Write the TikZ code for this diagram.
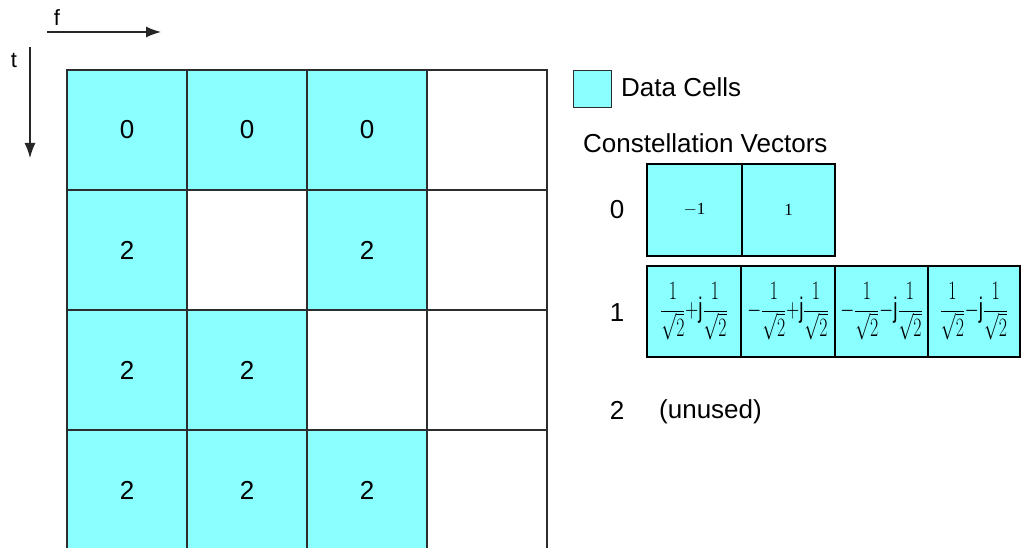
\documentclass[tikz,border=0pt]{standalone}
\usepackage{graphicx}
\usepackage{fontspec}
\setmainfont{Liberation Sans}
\newfontfamily\numserif{Liberation Serif}
\usetikzlibrary{arrows.meta}
\definecolor{cellcyan}{RGB}{138,255,255}
\definecolor{gridline}{RGB}{45,45,45}
\newcommand{\cvexpr}[1]{\scalebox{0.86}[1.28]{$\displaystyle #1$}}
\newcommand{\isq}{\frac{1}{\sqrt{2}}}
\begin{document}
\begin{tikzpicture}[x=1pt,y=-1pt,
  cell/.style={draw=gridline, line width=1.6pt, minimum width=120pt, minimum height=120pt, inner sep=0pt, font=\fontsize{26}{30}\selectfont},
  data/.style={cell, fill=cellcyan},
  cvbox/.style={draw=black, line width=1.3pt, fill=cellcyan, inner sep=0pt},
  lbl/.style={font=\fontsize{26}{30}\selectfont, inner sep=0pt, text=black},
  axis/.style={draw=black!85, line width=1.3pt, -{Latex[length=15pt,width=11pt]}},
  cvfrac/.style={font=\fontsize{22}{25}\selectfont},
  cvnum/.style={font=\numserif\fontsize{17}{20}\selectfont}
]
\useasboundingbox (0,0) rectangle (1021,548);
\clip (0,0) rectangle (1021,548);
% axes
\coordinate (fs) at (47,32);
\coordinate (fe) at (161,32);
\coordinate (ts) at (30,47);
\coordinate (te) at (30,158);
\draw[axis] (fs) -- (fe);
\draw[axis] (ts) -- (te);
\node[lbl, font=\fontsize{22}{26}\selectfont, anchor=base] (flab) at (57,26) {f};
\node[lbl, font=\fontsize{22}{26}\selectfont, anchor=base] (tlab) at (14,68) {t};
% grid
\node[cell] (g03) at (487,130) {};
\node[cell] (g11) at (247,250) {};
\node[cell] (g13) at (487,250) {};
\node[cell] (g22) at (367,370) {};
\node[cell] (g23) at (487,370) {};
\node[cell] (g33) at (487,490) {};
\node[data] (g00) at (127,130) {0};
\node[data] (g01) at (247,130) {0};
\node[data] (g02) at (367,130) {0};
\node[data] (g10) at (127,250) {2};
\node[data] (g12) at (367,250) {2};
\node[data] (g20) at (127,370) {2};
\node[data] (g21) at (247,370) {2};
\node[data] (g30) at (127,490) {2};
\node[data] (g31) at (247,490) {2};
\node[data] (g32) at (367,490) {2};
% legend
\node[draw=gridline, line width=1.6pt, fill=cellcyan, minimum width=38pt, minimum height=37pt, inner sep=0pt] (leg) at (592.5,89) {};
\node[lbl, anchor=base west] (legtxt) at (621,97) {Data Cells};
\node[lbl, anchor=base west] (cvtitle) at (583,153) {Constellation Vectors};
% row 0
\node[lbl] (r0) at (617,210) {0};
\node[cvbox, minimum width=95pt, minimum height=92pt, cvnum] (c00) at (694.5,210) {$-$1};
\node[cvbox, minimum width=93pt, minimum height=92pt, cvnum] (c01) at (788.5,210) {1};
% row 1
\node[lbl] (r1) at (617,313) {1};
\node[cvbox, minimum width=94pt, minimum height=91pt, cvfrac] (c10) at (694,311.5) {\cvexpr{\isq{+}\mathrm{j}\isq}};
\node[cvbox, minimum width=94pt, minimum height=91pt, cvfrac] (c11) at (788,311.5) {\cvexpr{{-}\isq{+}\mathrm{j}\isq}};
\node[cvbox, minimum width=93pt, minimum height=91pt, cvfrac] (c12) at (881.5,311.5) {\cvexpr{{-}\isq{-}\mathrm{j}\isq}};
\node[cvbox, minimum width=92pt, minimum height=91pt, cvfrac] (c13) at (974,311.5) {\cvexpr{\isq{-}\mathrm{j}\isq}};
% row 2
\node[lbl] (r2) at (617,410) {2};
\node[lbl, anchor=base west] (unused) at (659,418) {(unused)};
\end{tikzpicture}
\end{document}
